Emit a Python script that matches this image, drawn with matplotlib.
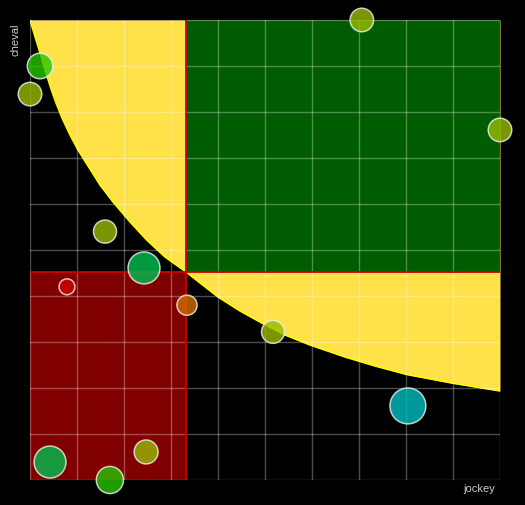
import matplotlib
matplotlib.use("Agg")
import matplotlib.pyplot as plt
import numpy as np

# ---- data (0-100 scale) ----
seuil_jockey = 33.2
seuil_cheval = 45.2

courbe_x = [0, 1.06, 2.13, 3.19, 4.40, 5.53, 6.81, 8.51, 10.21, 12.34, 14.89,
            17.66, 21.28, 24.83, 28.72, 33.19, 36.17, 40.0, 44.68, 49.30, 54.26,
            59.57, 67.02, 73.40, 80.15, 90.0, 100]
courbe_y = [100, 96.37, 92.83, 89.13, 85.22, 81.96, 78.70, 75.00, 71.74, 68.26, 64.13,
            60.43, 56.09, 52.17, 48.48, 45.22, 42.83, 39.78, 36.74, 34.13, 31.52,
            29.35, 26.74, 24.78, 22.93, 21.02, 19.35]

jockey = [2.13, 0.0, 15.96, 24.26, 7.87, 33.4, 51.7, 80.4, 4.26, 17.0, 24.7, 70.6, 100.0]
cheval = [90.0, 83.9, 54.0, 46.1, 42.0, 38.0, 32.2, 16.1, 3.9, 0.0, 6.1, 100.0, 76.1]
taille = [13.5, 12.5, 12.3, 16.7, 8.7, 10.8, 12.2, 18.7, 16.7, 14.3, 12.7, 12.5, 12.5]
couleurs = ["#27c600", "#98bc00", "#98bc00", "#00c050", "#d00000", "#d26e00",
            "#98bc00", "#00bfbf", "#00c050", "#27c600", "#98bc00", "#98bc00", "#98bc00"]

W, H = 525, 505
fig = plt.figure(figsize=(W / 100, H / 100), dpi=100, facecolor="black")
ax = fig.add_axes([30 / W, 1 - 480 / H, 470 / W, 460 / H])
ax.set_facecolor("black")
ax.set_xlim(0, 100)
ax.set_ylim(0, 100)

# zones
ax.fill_between(courbe_x, courbe_y, 100, color="#ffe24a", lw=0, zorder=1)
ax.plot(courbe_x, courbe_y, color="#ffff00", lw=1.1, zorder=1.2)
ax.add_patch(plt.Rectangle((seuil_jockey, seuil_cheval), 100 - seuil_jockey, 100 - seuil_cheval,
                           facecolor="#005c00", lw=0, zorder=1.5))
ax.add_patch(plt.Rectangle((0, 0), seuil_jockey, seuil_cheval,
                           facecolor="#800000", lw=0, zorder=1.5))

# grid
ax.set_xticks(np.arange(0, 101, 10))
ax.set_yticks(np.arange(0, 101, 10))
ax.grid(True, color="white", alpha=0.3, lw=1.0)
ax.set_axisbelow(False)
ax.tick_params(length=0, labelbottom=False, labelleft=False)
for s in ax.spines.values():
    s.set_visible(False)

# thresholds
ax.axvline(seuil_jockey, color="#cc0000", lw=1.3, zorder=2.6)
ax.axhline(seuil_cheval, color="#cc0000", lw=1.3, zorder=2.6)

# bubbles
sizes = [((2 * r - 1.5) * 0.72) ** 2 for r in taille]
ax.scatter(jockey, cheval, s=sizes, c=couleurs, alpha=0.8, edgecolors="#f0f0f0",
           linewidths=1.1, zorder=3, clip_on=False)

fig.text(495 / W, 1 - 489 / H, "jockey", color="#cccccc", fontsize=8,
         family="Liberation Sans", ha="right", va="center")
fig.text(15.5 / W, 1 - 23 / H, "cheval", color="#cccccc", fontsize=8,
         family="Liberation Sans", ha="center", va="top", rotation=90)

fig.savefig("out.png", dpi=100, facecolor="black")
